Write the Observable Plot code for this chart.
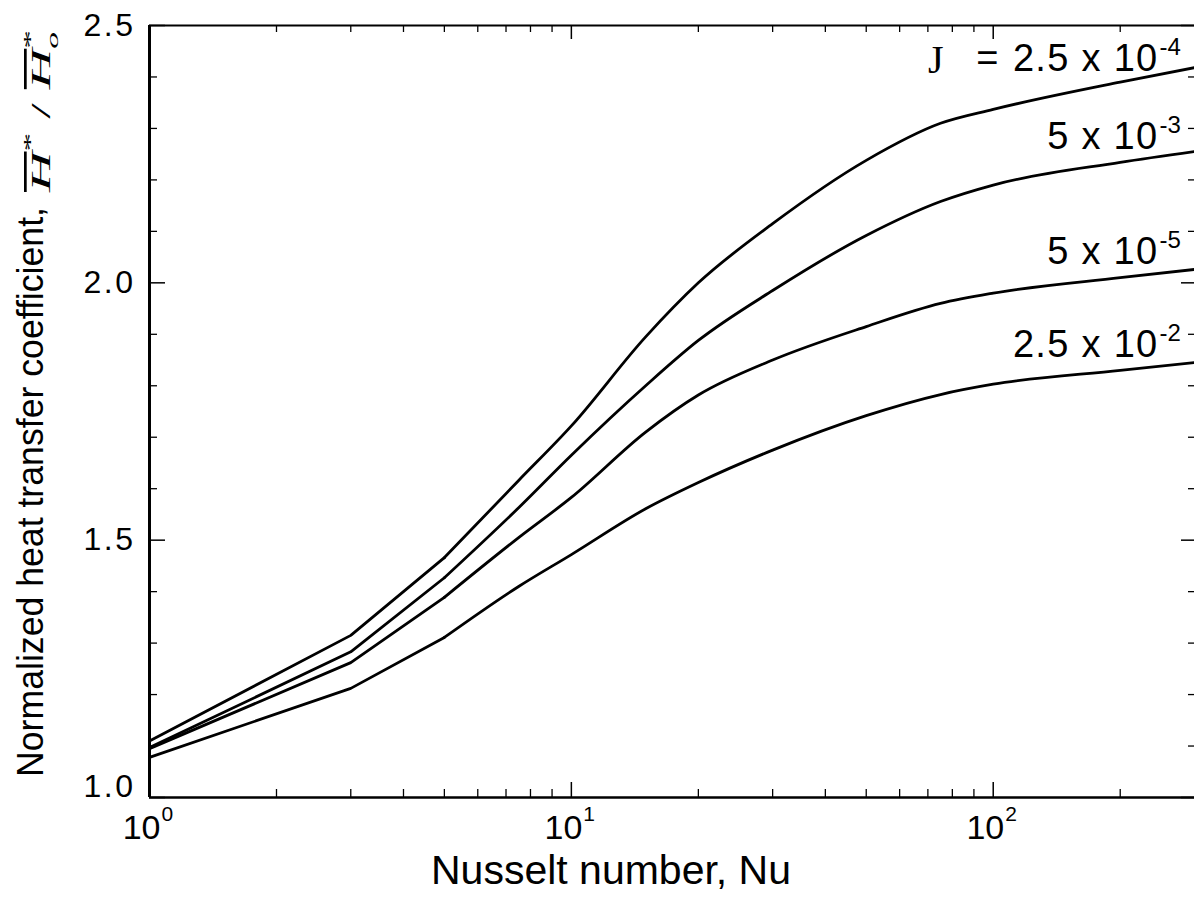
<!DOCTYPE html>
<html><head><meta charset="utf-8">
<script src="https://cdn.jsdelivr.net/npm/d3@7"></script>
<script src="https://cdn.jsdelivr.net/npm/@observablehq/plot@0.6"></script>
<style>body{margin:0;background:#fff;} svg{display:block}</style>
</head><body><div id="chart"></div>
<script>
// ---- data ----
const nusselt = [1, 3, 5, 7.5, 10, 15, 20, 30, 50, 75, 100, 200, 300];
const seriesNames = ["2.5e-4", "5e-3", "5e-5", "2.5e-2"];
const curve25em4 = [1.110, 1.315, 1.466, 1.616, 1.722, 1.895, 2.000, 2.115, 2.238, 2.310, 2.337, 2.390, 2.418];
const curve5em3  = [1.097, 1.283, 1.427, 1.563, 1.665, 1.800, 1.888, 1.985, 2.092, 2.158, 2.190, 2.234, 2.255];
const curve5em5  = [1.095, 1.262, 1.389, 1.505, 1.583, 1.710, 1.782, 1.850, 1.915, 1.960, 1.980, 2.010, 2.026];
const curve25em2 = [1.078, 1.212, 1.311, 1.410, 1.472, 1.561, 1.612, 1.675, 1.742, 1.783, 1.803, 1.830, 1.845];
const labelMantissa = ["2.5 x 10", "5 x 10", "5 x 10", "2.5 x 10"];
const labelExponent = ["-4", "-3", "-5", "-2"];
const labelAt = [2.4125, 2.261, 2.0375, 1.855];
const xTicksMajor = [1, 10, 100];
const xTickExponents = ["0", "1", "2"];
const xTicksMinor = [2, 3, 4, 5, 6, 7, 8, 9, 20, 30, 40, 50, 60, 70, 80, 90, 200];
const yTicksMajor = [1.0, 1.5, 2.0, 2.5];
const yTicksMinor = [1.1, 1.2, 1.3, 1.4, 1.6, 1.7, 1.8, 1.9, 2.1, 2.2, 2.3, 2.4];

const seriesValues = [curve25em4, curve5em3, curve5em5, curve25em2];
const rows = [];
seriesValues.forEach((vals, i) => vals.forEach((v, j) => rows.push({series: seriesNames[i], nu: nusselt[j], h: v})));
const lowRows = rows.filter(r => r.nu <= 5);
const highRows = rows.filter(r => r.nu >= 5);

const W = 1194, H = 920, mL = 149, mR = 0, mT = 25, mB = 123;
const pw = W - mL - mR, ph = H - mT - mB;
const font = "'Liberation Sans', Arial, Helvetica, sans-serif";
const lineW = 2.8;

const svg = Plot.plot({
  width: W, height: H,
  marginLeft: mL, marginRight: mR, marginTop: mT, marginBottom: mB,
  x: {type: "log", domain: [1, 300], axis: null},
  y: {domain: [1, 2.5], axis: null},
  style: {fontFamily: font, background: "white", color: "black", overflow: "visible"},
  marks: [
    // bottom ticks (inward)
    Plot.tickX(xTicksMinor, {x: d => d, insetTop: ph - 8, strokeWidth: 1.3}),
    Plot.tickX(xTicksMajor, {x: d => d, insetTop: ph - 15, strokeWidth: 1.5}),
    // top ticks (inward)
    Plot.tickX(xTicksMinor, {x: d => d, insetBottom: ph - 7, strokeWidth: 1.3}),
    Plot.tickX(xTicksMajor, {x: d => d, insetBottom: ph - 14, strokeWidth: 1.5}),
    // left ticks
    Plot.tickY(yTicksMinor, {y: d => d, insetRight: pw - 8, strokeWidth: 1.3}),
    Plot.tickY(yTicksMajor, {y: d => d, insetRight: pw - 16, strokeWidth: 1.5}),
    // right ticks
    Plot.tickY(yTicksMinor, {y: d => d, insetLeft: pw - 6, strokeWidth: 1.3}),
    Plot.tickY(yTicksMajor, {y: d => d, insetLeft: pw - 13, strokeWidth: 1.5}),
    // frame
    Plot.ruleX([1], {strokeWidth: 3}),
    Plot.ruleY([1], {strokeWidth: 2.5}),
    Plot.ruleY([2.5], {strokeWidth: 2}),
    // curves: straight segments at low Nu, smooth above
    Plot.line(lowRows, {x: "nu", y: "h", z: "series", stroke: "black", strokeWidth: lineW, curve: "linear"}),
    Plot.line(highRows, {x: "nu", y: "h", z: "series", stroke: "black", strokeWidth: lineW, curve: "monotone-x"}),
    // y tick labels
    Plot.text(yTicksMajor.filter(d => d > 1), {y: d => d, text: d => d.toFixed(1), frameAnchor: "left", textAnchor: "end", dx: -14, fontSize: 32, lineAnchor: "middle"}),
    Plot.text(yTicksMajor.filter(d => d === 1), {y: d => d, text: d => d.toFixed(1), frameAnchor: "left", textAnchor: "end", dx: -14, dy: -11, fontSize: 32, lineAnchor: "middle"}),
    // x tick labels 10^n
    Plot.text(xTicksMajor, {x: d => d, text: () => "10", frameAnchor: "bottom", textAnchor: "end", dx: 11, dy: 41, lineAnchor: "bottom", fontSize: 34}),
    Plot.text(xTicksMajor, {x: d => d, text: (d, i) => xTickExponents[i], frameAnchor: "bottom", textAnchor: "start", dx: 12, dy: 23, lineAnchor: "bottom", fontSize: 21}),
    // curve labels
    Plot.text(labelAt, {y: d => d, text: (d, i) => labelMantissa[i], frameAnchor: "right", textAnchor: "end", dx: -36, lineAnchor: "bottom", fontSize: 38}),
    Plot.text(labelAt, {y: d => d, text: (d, i) => labelExponent[i], frameAnchor: "right", textAnchor: "start", dx: -35, dy: -16, lineAnchor: "bottom", fontSize: 24}),
    Plot.text(labelAt.slice(0, 1), {y: d => d, text: () => "=", frameAnchor: "right", textAnchor: "end", dx: -196, lineAnchor: "bottom", fontSize: 38}),
    Plot.text(labelAt.slice(0, 1), {y: d => d, text: () => "J", frameAnchor: "right", textAnchor: "end", dx: -251, dy: 2, lineAnchor: "bottom", fontSize: 40, fontFamily: "'Liberation Serif', 'Times New Roman', serif"})
  ]
});

const sel = d3.select(svg);
// widen the tick and curve labels a little, like the reference's lettering
sel.selectAll("text").filter(function() { return /^\d\.\d$/.test(this.textContent); }).attr("letter-spacing", 2.5);
sel.selectAll("text").filter(function() { return / x 10$/.test(this.textContent); }).attr("letter-spacing", 1.3);

sel.append("text")
  .attr("x", 611).attr("y", 884)
  .attr("text-anchor", "middle")
  .attr("font-size", 41).attr("font-family", font).attr("fill", "black")
  .text("Nusselt number, Nu");

sel.append("text")
  .attr("transform", "translate(43,777) rotate(-90)")
  .attr("text-anchor", "start")
  .attr("font-size", 37).attr("font-family", font).attr("fill", "black")
  .attr("textLength", 570).attr("lengthAdjust", "spacingAndGlyphs")
  .text("Normalized heat transfer coefficient,");

const mt = sel.append("text")
  .attr("transform", "translate(50,192) rotate(-90)")
  .attr("text-anchor", "start")
  .attr("font-family", "'Liberation Serif', 'Times New Roman', serif")
  .attr("font-size", 27).attr("fill", "black")
  .attr("textLength", 162).attr("lengthAdjust", "spacingAndGlyphs");
mt.append("tspan").attr("font-style", "italic").attr("text-decoration", "overline").text("H");
mt.append("tspan").attr("dy", -13).attr("font-size", 18).text("*");
mt.append("tspan").attr("dy", 13).text(" / ");
mt.append("tspan").attr("font-style", "italic").attr("text-decoration", "overline").text("H");
mt.append("tspan").attr("dy", -13).attr("font-size", 18).text("*");
mt.append("tspan").attr("dx", -9).attr("dy", 21).attr("font-size", 16).attr("font-style", "italic").text("o");

document.getElementById("chart").appendChild(svg);
</script>
</body></html>
